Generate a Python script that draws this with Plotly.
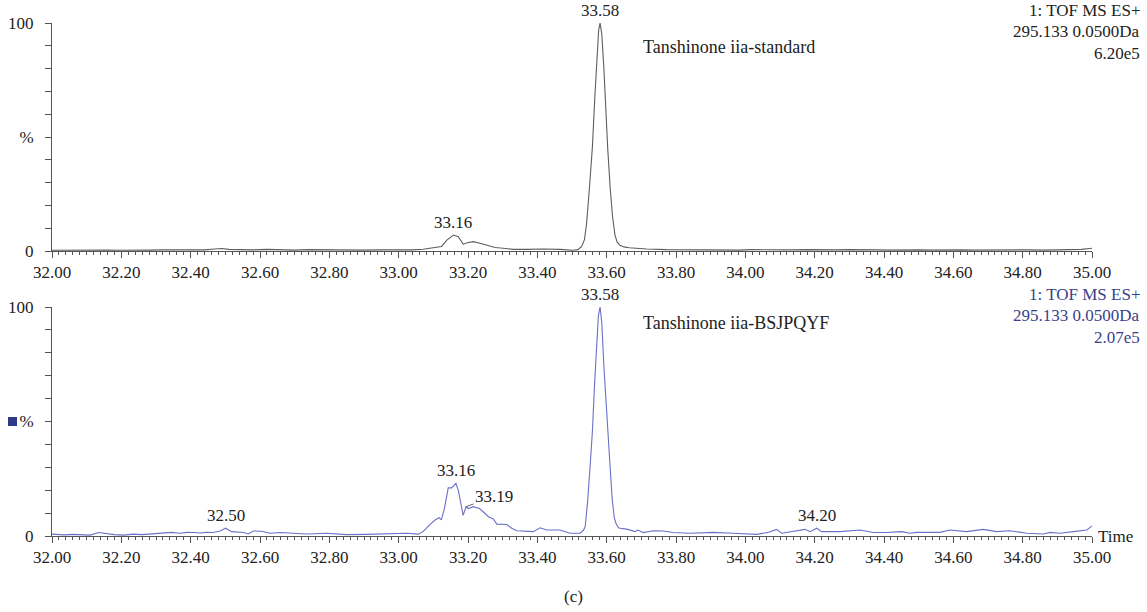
import plotly.graph_objects as go

# ---------------- data ----------------
t_std = [32.00, 32.04, 32.08, 32.12, 32.16, 32.20, 32.24, 32.28, 32.32, 32.36, 32.40,
         32.44, 32.47, 32.49, 32.51, 32.54, 32.58, 32.62, 32.66, 32.70, 32.74, 32.78,
         32.82, 32.86, 32.90, 32.95, 33.00, 33.04, 33.07, 33.10, 33.124, 33.139, 33.158,
         33.172, 33.186, 33.198, 33.215, 33.235, 33.254, 33.278, 33.302, 33.331, 33.369,
         33.417, 33.465, 33.504, 33.517, 33.528, 33.536, 33.542, 33.550, 33.559, 33.566,
         33.572, 33.577, 33.581, 33.586, 33.592, 33.598, 33.603, 33.610, 33.617, 33.624,
         33.630, 33.638, 33.650, 33.665, 33.677, 33.715, 33.773, 33.82, 33.86, 33.90,
         33.94, 33.98, 34.02, 34.06, 34.10, 34.14, 34.18, 34.22, 34.26, 34.30, 34.34,
         34.38, 34.42, 34.46, 34.50, 34.54, 34.58, 34.62, 34.66, 34.70, 34.74, 34.78,
         34.82, 34.86, 34.90, 34.94, 34.97, 35.00]
y_std = [0.3, 0.4, 0.3, 0.5, 0.4, 0.3, 0.5, 0.4, 0.5, 0.4, 0.6,
         0.5, 0.9, 1.1, 0.7, 0.6, 0.5, 0.7, 0.5, 0.4, 0.6, 0.5,
         0.4, 0.5, 0.4, 0.5, 0.4, 0.5, 0.8, 1.5, 2.0, 4.8, 7.0,
         6.3, 3.0, 3.6, 4.1, 3.4, 2.6, 1.5, 1.2, 0.7, 0.7,
         0.9, 0.7, 0.3, 0.6, 2.0, 5.0, 12.0, 27.0, 46.0, 68.0,
         87.0, 97.0, 100.0, 95.0, 80.0, 60.0, 45.0, 28.0, 15.0, 7.0,
         4.0, 2.5, 1.8, 1.4, 1.2, 0.9, 0.6, 0.5, 0.6, 0.4,
         0.5, 0.4, 0.6, 0.5, 0.4, 0.5, 0.6, 0.4, 0.5, 0.6, 0.4,
         0.5, 0.4, 0.6, 0.5, 0.4, 0.6, 0.5, 0.4, 0.5, 0.6, 0.4,
         0.5, 0.4, 0.6, 0.5, 0.7, 1.2]

t_smp = [32.00, 32.013, 32.035, 32.061, 32.085, 32.11, 32.134, 32.157, 32.18, 32.206,
         32.235, 32.26, 32.283, 32.312, 32.345, 32.369, 32.389, 32.413, 32.427, 32.445,
         32.465, 32.485, 32.501, 32.518, 32.552, 32.566, 32.581, 32.605, 32.629, 32.658,
         32.696, 32.734, 32.792, 32.85, 32.907, 32.965, 33.023, 33.057, 33.071, 33.09,
         33.105, 33.117, 33.123, 33.132, 33.143, 33.153, 33.165, 33.172, 33.186, 33.194,
         33.201, 33.215, 33.233, 33.244, 33.259, 33.273, 33.283, 33.312, 33.326, 33.341,
         33.388, 33.408, 33.427, 33.465, 33.494, 33.523, 33.533, 33.538, 33.545, 33.552,
         33.559, 33.565, 33.570, 33.576, 33.581, 33.586, 33.592, 33.598, 33.605, 33.610,
         33.616, 33.622, 33.627, 33.634, 33.645, 33.658, 33.682, 33.690, 33.706, 33.735,
         33.763, 33.792, 33.84, 33.908, 33.965, 34.033, 34.067, 34.09, 34.105, 34.138,
         34.172, 34.187, 34.206, 34.22, 34.273, 34.331, 34.369, 34.408, 34.451, 34.475,
         34.494, 34.561, 34.59, 34.638, 34.686, 34.725, 34.763, 34.811, 34.859, 34.879,
         34.908, 34.946, 34.985, 35.00]
y_smp = [0.8, 0.7, 0.5, 0.7, 0.5, 0.4, 1.5, 0.9, 0.6, 0.4,
         0.8, 0.6, 0.9, 1.2, 1.6, 1.2, 1.6, 1.5, 1.3, 1.6,
         1.5, 2.2, 3.4, 1.9, 1.5, 0.9, 2.2, 2.1, 1.2, 1.5,
         1.2, 0.9, 1.2, 0.6, 0.7, 0.9, 1.2, 0.8, 2.0, 5.0,
         7.0, 8.0, 7.0, 12.0, 21.0, 21.0, 23.0, 20.0, 9.0, 12.8,
         12.0, 12.8, 12.0, 10.6, 8.4, 7.4, 5.2, 5.0, 3.4, 2.3,
         1.9, 3.6, 2.6, 2.6, 1.2, 1.2, 2.5, 4.0, 15.0, 30.0,
         46.0, 66.0, 82.0, 96.0, 100.0, 93.0, 74.0, 58.0, 45.0, 30.0,
         16.0, 8.0, 5.5, 3.6, 3.2, 3.0, 1.9, 2.6, 1.5, 2.3,
         2.2, 1.5, 1.2, 1.6, 1.2, 0.7, 1.6, 2.9, 1.2, 2.2,
         2.9, 1.9, 3.4, 1.9, 1.9, 2.6, 1.5, 1.5, 1.9, 1.2,
         1.6, 1.6, 2.6, 1.9, 2.9, 1.9, 2.3, 1.2, 0.9, 1.6,
         1.2, 1.9, 2.6, 4.4]

x_range = [32.0, 35.0]
y_tickvals = [0, 10, 20, 30, 40, 50, 60, 70, 80, 90, 100]
y_ticktext = ["0", "", "", "", "", "%", "", "", "", "", "100"]

top_info = ["1: TOF MS ES+", "295.133 0.0500Da", "6.20e5"]
bot_info = ["1: TOF MS ES+", "295.133 0.0500Da", "2.07e5"]

# ---------------- figure ----------------
FONT = "Liberation Serif, Tinos, Times New Roman, DejaVu Serif, serif"
FS = 17
AX = "#555555"
W, H = 1147, 612

fig = go.Figure()
fig.add_trace(go.Scatter(x=t_std, y=y_std, mode="lines",
                         line=dict(color="#5e5e5e", width=1.1), xaxis="x", yaxis="y",
                         showlegend=False, hoverinfo="skip"))
fig.add_trace(go.Scatter(x=t_smp, y=y_smp, mode="lines",
                         line=dict(color="#6c70c8", width=1.1), xaxis="x2", yaxis="y2",
                         showlegend=False, hoverinfo="skip"))

xd = [52 / W, 1092 / W]
y1d = [1 - 251 / H, 1 - 23 / H]
y2d = [1 - 536 / H, 1 - 307 / H]

def xaxis(anchor):
    return dict(domain=xd, range=x_range, anchor=anchor, showgrid=False, zeroline=False,
                automargin=False,
                showline=True, linecolor=AX, linewidth=1,
                ticks="outside", ticklen=6, tickcolor=AX, tickwidth=1,
                dtick=0.2, tick0=32.0, tickformat=".2f",
                ticklabelstandoff=0,
                minor=dict(dtick=0.02, ticks="outside", ticklen=3, tickcolor=AX, tickwidth=1,
                           showgrid=False),
                tickfont=dict(family=FONT, size=FS, color="#222"))

def yaxis(anchor, dom):
    return dict(domain=dom, range=[0, 100], anchor=anchor, showgrid=False, zeroline=False,
                automargin=False,
                showline=True, linecolor=AX, linewidth=1,
                ticks="outside", ticklen=6, tickcolor=AX, tickwidth=1,
                tickvals=y_tickvals, ticktext=y_ticktext, ticklabelstandoff=8,
                tickfont=dict(family=FONT, size=FS, color="#222"))

fig.update_layout(
    width=W, height=H, margin=dict(l=0, r=0, t=0, b=0, autoexpand=False),
    paper_bgcolor="white", plot_bgcolor="white",
    font=dict(family=FONT, size=FS, color="#222"),
    xaxis=xaxis("y"), yaxis=yaxis("x", y1d),
    xaxis2=xaxis("y2"), yaxis2=yaxis("x2", y2d),
)

ann = []
def peak_label(txt, x, y, xr, yr, shift=1):
    ann.append(dict(text=txt, x=x, y=y, xref=xr, yref=yr, showarrow=False,
                    yanchor="bottom", yshift=shift, font=dict(family=FONT, size=FS, color="#222")))

peak_label("33.58", 33.581, 100, "x", "y")
peak_label("33.16", 33.158, 7.0, "x", "y")
peak_label("33.58", 33.581, 100, "x2", "y2")
peak_label("33.16", 33.165, 23.0, "x2", "y2")
peak_label("32.50", 32.501, 3.4, "x2", "y2")
peak_label("34.20", 34.206, 3.4, "x2", "y2")
ann.append(dict(text="33.19", x=33.194, y=12.8, xref="x2", yref="y2", showarrow=True,
                arrowhead=0, arrowwidth=1, arrowcolor="#666", ax=28, ay=-10, standoff=0,
                font=dict(family=FONT, size=FS, color="#222")))

ann.append(dict(text="Tanshinone iia-standard", x=641 / W, y=1 - 47 / H, xref="paper", yref="paper",
                xanchor="left", yanchor="middle", showarrow=False,
                font=dict(family=FONT, size=18, color="#222")))
ann.append(dict(text="Tanshinone iia-BSJPQYF", x=641 / W, y=1 - 323 / H, xref="paper", yref="paper",
                xanchor="left", yanchor="middle", showarrow=False,
                font=dict(family=FONT, size=18, color="#222")))

for i, s in enumerate(top_info):
    ann.append(dict(text=s, x=1142 / W, y=1 - (10 + 21.5 * i) / H, xref="paper", yref="paper",
                    xanchor="right", yanchor="middle", showarrow=False,
                    font=dict(family=FONT, size=FS, color="#222")))
for i, s in enumerate(bot_info):
    ann.append(dict(text=s, x=1142 / W, y=1 - (294 + 21.5 * i) / H, xref="paper", yref="paper",
                    xanchor="right", yanchor="middle", showarrow=False,
                    font=dict(family=FONT, size=FS, color="#3a3f8c")))

ann.append(dict(text="Time", x=1096 / W, y=1 - 536 / H, xref="paper", yref="paper",
                xanchor="left", yanchor="middle", showarrow=False,
                font=dict(family=FONT, size=FS, color="#222")))
ann.append(dict(text="(c)", x=573 / W, y=1 - 596 / H, xref="paper", yref="paper",
                xanchor="center", yanchor="middle", showarrow=False,
                font=dict(family=FONT, size=FS, color="#222")))
fig.update_layout(annotations=ann)

fig.add_shape(type="rect", xref="paper", yref="paper",
              x0=8 / W, x1=17 / W, y0=1 - 426 / H, y1=1 - 417 / H,
              fillcolor="#2e3a87", line=dict(width=0))

fig.write_html("out.html")
